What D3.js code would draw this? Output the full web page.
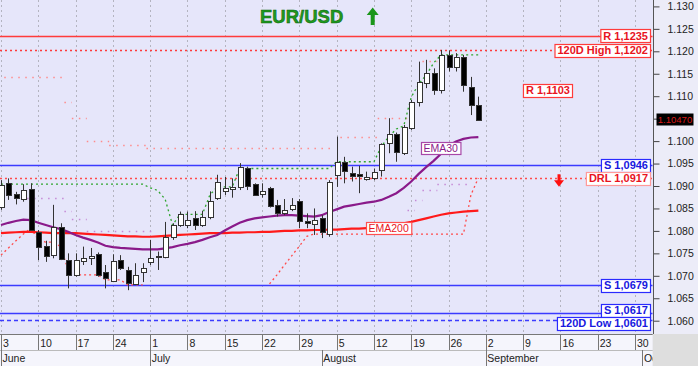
<!DOCTYPE html>
<html>
<head>
<meta charset="utf-8">
<script src="https://cdn.jsdelivr.net/npm/d3@7"></script>
<style>
  body { margin: 0; background: #fff; }
  svg { display: block; font-family: "Liberation Sans", Arial, sans-serif; }
</style>
</head>
<body>
<svg id="chart"></svg>
<script>
// EUR/USD daily, trading days from 3 June (index 0) to 30 August (index 64)
const opens  = [1.0853,1.0906,1.0882,1.0870,1.0893,1.0798,1.0766,1.0746,1.0809,1.0735,
                1.0702,1.0733,1.0741,1.0748,1.0708,1.0688,1.0735,1.0713,1.0683,1.0708,
                1.0729,1.0742,1.0743,1.0787,1.0813,1.0812,1.0829,1.0815,1.0832,1.0874,
                1.0889,1.0893,1.0898,1.0939,1.0904,1.0882,1.0895,1.0858,1.0841,1.0849,
                1.0867,1.0822,1.0815,1.0828,1.0795,1.0924,1.0954,1.0930,1.0926,1.0915,
                1.0919,1.0936,1.0994,1.1015,1.0973,1.1030,1.1088,1.1130,1.1152,1.1114,
                1.1192,1.1164,1.1187,1.1121,1.1080];
const highs  = [1.0913,1.0917,1.0887,1.0904,1.0906,1.0802,1.0778,1.0858,1.0817,1.0750,
                1.0750,1.0765,1.0762,1.0752,1.0724,1.0748,1.0746,1.0720,1.0728,1.0728,
                1.0780,1.0754,1.0820,1.0817,1.0843,1.0843,1.0844,1.0845,1.0888,1.0925,
                1.0920,1.0917,1.0951,1.0943,1.0906,1.0906,1.0898,1.0869,1.0871,1.0873,
                1.0871,1.0839,1.0850,1.0835,1.0913,1.1010,1.0965,1.0943,1.0945,1.0932,
                1.0939,1.0995,1.1051,1.1019,1.1036,1.1092,1.1177,1.1181,1.1162,1.1203,
                1.1202,1.1196,1.1192,1.1143,1.1099];
const lows   = [1.0847,1.0869,1.0859,1.0865,1.0800,1.0735,1.0731,1.0739,1.0735,1.0672,
                1.0698,1.0724,1.0724,1.0698,1.0672,1.0686,1.0713,1.0668,1.0681,1.0686,
                1.0724,1.0713,1.0739,1.0780,1.0809,1.0806,1.0802,1.0809,1.0826,1.0869,
                1.0880,1.0874,1.0891,1.0891,1.0878,1.0874,1.0852,1.0832,1.0835,1.0844,
                1.0806,1.0806,1.0791,1.0784,1.0787,1.0898,1.0906,1.0910,1.0884,1.0912,
                1.0913,1.0921,1.0973,1.0954,1.0969,1.1025,1.1077,1.1118,1.1103,1.1106,
                1.1155,1.1155,1.1110,1.1058,1.1046];
const closes = [1.0902,1.0880,1.0873,1.0891,1.0802,1.0765,1.0743,1.0809,1.0737,1.0702,
                1.0735,1.0740,1.0745,1.0702,1.0694,1.0733,1.0717,1.0683,1.0702,1.0717,
                1.0739,1.0744,1.0787,1.0813,1.0837,1.0824,1.0813,1.0832,1.0867,1.0910,
                1.0896,1.0898,1.0943,1.0898,1.0880,1.0889,1.0854,1.0841,1.0847,1.0858,
                1.0822,1.0817,1.0824,1.0796,1.0910,1.0954,1.0934,1.0924,1.0922,1.0919,
                1.0932,1.0994,1.1015,1.0974,1.1031,1.1088,1.1132,1.1152,1.1115,1.1192,
                1.1166,1.1187,1.1125,1.1080,1.1047];

const ema30  = [1.0813,1.0818,1.0822,1.0825,1.0824,1.0818,1.0813,1.0808,1.0804,1.0798,
                1.0791,1.0785,1.0780,1.0774,1.0767,1.0764,1.0762,1.0761,1.0760,1.0759,
                1.0759,1.0759,1.0761,1.0764,1.0768,1.0771,1.0775,1.0780,1.0786,1.0791,
                1.0801,1.0810,1.0818,1.0824,1.0828,1.0830,1.0832,1.0834,1.0835,1.0835,
                1.0834,1.0833,1.0832,1.0835,1.0842,1.0848,1.0854,1.0857,1.0860,1.0863,
                1.0865,1.0869,1.0876,1.0884,1.0896,1.0910,1.0927,1.0942,1.0956,1.0972,
                1.0990,1.0999,1.1005,1.1008,1.1009];
const ema200 = [1.0795,1.0796,1.0797,1.0798,1.0798,1.0797,1.0796,1.0795,1.0795,1.0795,
                1.0795,1.0794,1.0793,1.0792,1.0791,1.0790,1.0789,1.0788,1.0788,1.0787,
                1.0787,1.0788,1.0789,1.0790,1.0791,1.0792,1.0793,1.0794,1.0795,1.0795,
                1.0795,1.0796,1.0796,1.0797,1.0797,1.0798,1.0798,1.0799,1.0800,1.0800,
                1.0801,1.0801,1.0802,1.0802,1.0803,1.0803,1.0804,1.0805,1.0805,1.0806,
                1.0806,1.0808,1.0811,1.0814,1.0817,1.0820,1.0824,1.0828,1.0832,1.0836,
                1.0839,1.0841,1.0843,1.0844,1.0845];

// trailing stop lines (null = not drawn)
const greenStop = [1.0904,1.0904,1.0904,1.0904,1.0904,1.0904,1.0904,1.0904,1.0904,1.0904,
                   1.0904,1.0904,1.0904,1.0904,1.0904,1.0904,1.0904,1.0904,1.0904,1.0904,
                   1.0896,1.0890,1.0871,1.0813,1.0837,1.0837,1.0837,1.0837,1.0880,1.0898,
                   1.0898,1.0898,1.0939,1.0939,1.0939,1.0939,1.0939,1.0939,1.0939,1.0939,
                   1.0939,1.0939,1.0939,1.0939,1.0939,1.0954,1.0954,1.0954,1.0954,1.0954,
                   1.0954,1.0988,1.1010,1.1027,1.1034,1.1098,1.1127,1.1147,1.1174,1.1192,
                   1.1192,1.1192,1.1192,1.1192,1.1192];
const redStop   = [1.0746,1.0762,1.0778,1.0793,1.0806,1.0780,1.0775,1.0775,1.0765,1.0713,
                   1.0702,1.0702,1.0702,1.0702,1.0691,1.0691,1.0691,1.0680,1.0680,1.0680,
                   null,null,null,null,null,null,null,null,null,null,
                   null,null,null,null,null,null,1.0682,1.0702,1.0724,1.0745,
                   1.0766,1.0788,1.0793,1.0793,1.0793,1.0793,1.0793,1.0793,1.0793,1.0793,
                   1.0793,1.0793,1.0793,1.0793,1.0793,1.0793,1.0793,1.0793,1.0793,1.0793,
                   1.0793,1.0793,1.0793,1.0880,1.0918];
const upperSteps = [1.1143,1.1143,1.1143,1.1143,1.1143,1.1143,1.1143,1.1143,1.1143,1.1087,
                    1.1051,1.1051,1.1001,1.1001,1.1001,1.0992,1.0992,1.0992,1.0992,1.0992,
                    1.0985,1.0985,1.0985,1.0985,1.0985,1.0985,1.0985,1.0985,1.0985,1.0985,
                    1.0985,1.0985,1.0985,1.0985,1.0985,1.0985,1.0985,1.0985,1.0985,1.0985,
                    1.0985,1.0985,1.0985,1.0985,1.0985,null,1.1010,1.1010,1.1010,1.1010,
                    1.1010,1.1051,1.1051,1.1051,1.1051,null,null,1.1178,1.1178,null,
                    null,null,null,null,null];
const midSteps   = [null,null,null,null,1.0873,1.0873,1.0873,1.0873,1.0873,1.0845,
                    1.0826,1.0826,1.0800,1.0800,1.0800,1.0800,1.0800,1.0800,1.0800,1.0800,
                    1.0800,null,null,null,null,null,null,null,null,null,
                    null,null,null,null,null,null,null,null,null,null,
                    null,null,null,null,null,null,null,null,null,null,
                    null,null,null,null,null,1.0847,1.0869,1.0890,1.0890,1.0904,
                    1.0904,1.0904,1.0904,null,null];

const levels = [
  { label: 'R 1,1235',          value: 1.1235, kind: 'R',  line: 'solid' },
  { label: '120D High 1,1202',  value: 1.1202, kind: 'R',  line: 'dotted' },
  { label: 'S 1,0946',          value: 1.0946, kind: 'S',  line: 'solid' },
  { label: 'DRL 1,0917',        value: 1.0917, kind: 'D',  line: 'dotted' },
  { label: 'S 1,0679',          value: 1.0679, kind: 'S',  line: 'solid' },
  { label: 'S 1,0617',          value: 1.0617, kind: 'S',  line: 'solid' },
  { label: '120D Low 1,0601',   value: 1.0601, kind: 'S',  line: 'dashed' }
];
const innerLevel = { label: 'R 1,1103', value: 1.1103 };

const priceTicks = d3.range(1.060, 1.1301, 0.005);
const dayTickIdx = [0,5,10,15,20,25,30,35,40,45,50,55,60,65,70,75,80,85];
const dayTickLabels = ['3','10','17','24','1','8','15','22','29','5','12','19','26','2','9','16','23','30'];
const monthStarts = [0, 20, 43, 65, 86];
const monthLabels = ['June','July','August','September','October'];

const W = 698, H = 366;
const plotR = 652.7, plotB = 334;

const svg = d3.select('#chart').attr('width', W).attr('height', H);

const x = d3.scaleLinear().domain([0, 85]).range([1, 635]);
const y = d3.scaleLinear().domain([1.060, 1.130]).range([320.7, 6.4]);
const step = x(1) - x(0);
const px = v => Math.round(v) + 0.5;
const last = closes[closes.length - 1];

// backgrounds
svg.append('rect').attr('width', W).attr('height', H).attr('fill', '#ececf8');
svg.append('rect').attr('width', plotR).attr('height', plotB).attr('fill', '#e6e6fa');
svg.append('rect').attr('x', 0).attr('y', plotB).attr('width', plotR).attr('height', H - plotB).attr('fill', '#f5f5fc');
svg.append('rect').attr('x', plotR).attr('y', plotB).attr('width', W - plotR).attr('height', H - plotB).attr('fill', '#dedede');

const defs = svg.append('defs');
defs.append('clipPath').attr('id', 'clip')
  .append('rect').attr('width', plotR).attr('height', plotB);
defs.append('clipPath').attr('id', 'mclip')
  .append('rect').attr('x', 0).attr('y', plotB).attr('width', plotR).attr('height', H - plotB);

const g = svg.append('g').attr('clip-path', 'url(#clip)');

// vertical grid
g.selectAll('.grid').data(dayTickIdx).join('line')
  .attr('x1', d => px(x(d))).attr('x2', d => px(x(d)))
  .attr('y1', 0).attr('y2', plotB)
  .attr('stroke', '#b4b4c0').attr('stroke-dasharray', '2,3');

// step dotted lines (one short segment per day, merged runs)
function runs(arr) {
  const out = [];
  arr.forEach((v, i) => {
    if (v == null) return;
    const prev = out[out.length - 1];
    if (prev && prev.v === v && prev.end === i - 1) prev.end = i;
    else out.push({ v, start: i, end: i });
  });
  return out;
}
function drawSteps(arr, color) {
  g.append('g').selectAll('line').data(runs(arr)).join('line')
    .attr('x1', d => x(d.start) - step / 2).attr('x2', d => x(d.end) + step / 2)
    .attr('y1', d => px(y(d.v))).attr('y2', d => px(y(d.v)))
    .attr('stroke', color).attr('stroke-width', 1.3).attr('stroke-dasharray', '1.5,5.5');
}
drawSteps(upperSteps, '#ff8c8c');
drawSteps(midSteps, '#c58ad6');

// horizontal levels
const lineColor = { R: '#ff3b3b', S: '#3b3bff', D: '#ff4d4d' };
g.selectAll('.lvl').data(levels).join('line')
  .attr('x1', 0).attr('x2', plotR)
  .attr('y1', d => px(y(d.value))).attr('y2', d => px(y(d.value)))
  .attr('stroke', d => lineColor[d.kind])
  .attr('stroke-width', d => d.line === 'solid' ? 1.4 : 1.3)
  .attr('stroke-dasharray', d => d.line === 'dotted' ? '2,3' : d.line === 'dashed' ? '4,3' : null);

// trailing stops
const stopLine = d3.line().defined(d => d != null).x((d, i) => x(i)).y(d => y(d));
g.append('path').datum(greenStop).attr('d', stopLine)
  .attr('fill', 'none').attr('stroke', '#2fa52f').attr('stroke-width', 1.3).attr('stroke-dasharray', '2,3');
g.append('path').datum(redStop).attr('d', stopLine)
  .attr('fill', 'none').attr('stroke', '#ff4a4a').attr('stroke-width', 1.3).attr('stroke-dasharray', '2,3');

// moving averages
const maLine = d3.line().x((d, i) => x(i)).y(d => y(d));
g.append('path').datum(ema200).attr('d', maLine)
  .attr('fill', 'none').attr('stroke', '#ff1a1a').attr('stroke-width', 2.2);
g.append('path').datum(ema30).attr('d', maLine)
  .attr('fill', 'none').attr('stroke', '#8a1a8a').attr('stroke-width', 2.2);

// candles
const candles = closes.map((c, i) => ({ i, o: opens[i], h: highs[i], l: lows[i], c }));
g.selectAll('.wick').data(candles).join('line')
  .attr('x1', d => px(x(d.i))).attr('x2', d => px(x(d.i)))
  .attr('y1', d => y(d.h)).attr('y2', d => y(d.l))
  .attr('stroke', '#333').attr('stroke-width', 1);
g.selectAll('.body').data(candles).join('rect')
  .attr('x', d => Math.round(x(d.i)) - 2 + 0.5)
  .attr('width', 5)
  .attr('y', d => Math.round(y(Math.max(d.o, d.c))) + 0.5)
  .attr('height', d => Math.max(1, Math.round(Math.abs(y(d.o) - y(d.c)))))
  .attr('fill', d => d.c >= d.o ? '#ffffff' : '#000000')
  .attr('stroke', '#333').attr('stroke-width', 1);

// level tags at the right edge, pushed apart when they overlap
const tagH = 13;
const tags = levels.map(d => ({ ...d, cy: y(d.value) })).sort((a, b) => a.cy - b.cy);
for (let k = 1; k < tags.length; k++) {
  const gap = tags[k].cy - tags[k - 1].cy;
  if (gap < tagH) {
    const push = (tagH - gap) / 2;
    tags[k - 1].cy -= push;
    tags[k].cy += push;
  }
}
const textColor = { R: '#e8141e', S: '#1818e0', D: '#e8141e' };
const borderColor = { R: '#ff3b3b', S: '#2a2aff', D: '#ff9a9a' };
function tag(parent, d, right, cy) {
  const t = parent.append('g');
  const txt = t.append('text').text(d.label)
    .attr('font-size', 11).attr('font-weight', 'bold')
    .attr('fill', textColor[d.kind]).attr('y', cy + 4);
  const w = txt.node().getComputedTextLength();
  txt.attr('x', right - w - 3);
  t.insert('rect', 'text')
    .attr('x', right - w - 5.5).attr('y', Math.round(cy - tagH / 2) + 0.5)
    .attr('width', w + 5).attr('height', tagH)
    .attr('fill', '#fff').attr('stroke', borderColor[d.kind]).attr('stroke-width', 1.2);
}
tags.forEach(d => tag(svg, d, 651, d.cy));
tag(svg, { label: innerLevel.label, kind: 'R' }, 573, y(innerLevel.value) - 4.5);

// moving-average labels
function maTag(text, color, border, left, cy) {
  const t = svg.append('g');
  const txt = t.append('text').text(text).attr('font-size', 10.5)
    .attr('fill', color).attr('x', left + 2.5).attr('y', cy + 4);
  const w = txt.node().getComputedTextLength();
  t.insert('rect', 'text').attr('x', left + 0.5).attr('y', Math.round(cy - 6) + 0.5)
    .attr('width', w + 5).attr('height', 12)
    .attr('fill', '#fff').attr('stroke', border).attr('stroke-width', 1.2);
}
maTag('EMA30', '#8a1a8a', '#a848a8', 421, 148);
maTag('EMA200', '#e8141e', '#ff5050', 366, 227.5);

// DRL arrow
const drlY = y(1.0917);
svg.append('path')
  .attr('d', `M557.5,${drlY - 4}h3v6h3.5l-5,6.5l-5,-6.5h3.5z`)
  .attr('fill', '#ff1010');

// title
svg.append('text').text('EUR/USD').attr('x', 260).attr('y', 23)
  .attr('font-size', 18.5).attr('font-weight', 'bold')
  .attr('fill', '#1f9a1f').attr('stroke', '#0b5e0b').attr('stroke-width', 0.5);
svg.append('path').attr('d', 'M372.7,7.5l6,7.5h-4v10h-4v-10h-4z').attr('fill', '#1a961a');

// right price axis (the label next to the last price is hidden by the price tag)
const yAxis = d3.axisRight(y).tickValues(priceTicks).tickFormat(d3.format('.3f'))
  .tickSize(6).tickPadding(8);
const ya = svg.append('g').attr('transform', `translate(${px(plotR)},0)`).call(yAxis);
ya.select('.domain').remove();
ya.selectAll('line').attr('stroke', '#444');
ya.selectAll('text').attr('font-size', 10.5).attr('fill', '#222')
  .attr('font-family', '"Liberation Sans", Arial, sans-serif')
  .attr('display', d => Math.abs(y(d) - y(last)) < 10 ? 'none' : null);
svg.append('line').attr('x1', px(plotR)).attr('x2', px(plotR)).attr('y1', 0).attr('y2', plotB)
  .attr('stroke', '#555');

// last price tag
svg.append('rect').attr('x', 656.5).attr('y', Math.round(y(last) - 6.5) + 0.5)
  .attr('width', 37).attr('height', 12).attr('fill', '#000');
svg.append('text').text(d3.format('.5f')(last)).attr('x', 675).attr('y', y(last) + 3.5)
  .attr('text-anchor', 'middle').attr('font-size', 9.5).attr('fill', '#d81818');

// bottom time axis
svg.append('line').attr('x1', 0).attr('x2', plotR).attr('y1', plotB + 0.5).attr('y2', plotB + 0.5).attr('stroke', '#777');
svg.append('line').attr('x1', 0).attr('x2', plotR).attr('y1', 350.5).attr('y2', 350.5).attr('stroke', '#bbb');
svg.selectAll('.dsep').data(dayTickIdx).join('line')
  .attr('x1', d => px(x(d))).attr('x2', d => px(x(d))).attr('y1', plotB).attr('y2', 350)
  .attr('stroke', '#777');
svg.selectAll('.dlab').data(dayTickIdx).join('text')
  .text((d, i) => dayTickLabels[i])
  .attr('x', d => x(d) + 2).attr('y', 346.5)
  .attr('font-size', 10.5).attr('fill', '#222');
svg.selectAll('.msep').data(monthStarts).join('line')
  .attr('x1', d => px(x(d))).attr('x2', d => px(x(d))).attr('y1', 350).attr('y2', H)
  .attr('stroke', '#777');
svg.append('g').attr('clip-path', 'url(#mclip)')
  .selectAll('text').data(monthStarts).join('text')
  .text((d, i) => monthLabels[i])
  .attr('x', d => x(d) + 1.5).attr('y', 362)
  .attr('font-size', 10.5).attr('fill', '#222');
</script>
</body>
</html>
